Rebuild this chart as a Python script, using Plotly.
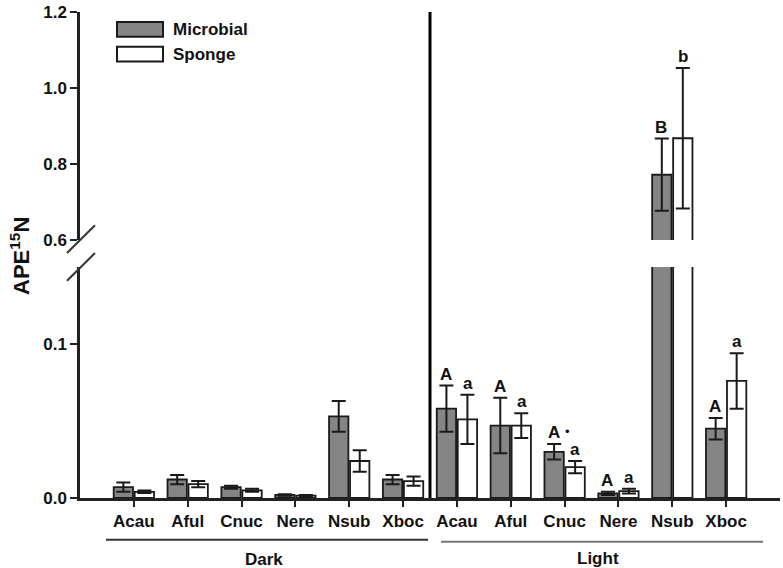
import plotly.graph_objects as go

species = ["Acau", "Aful", "Cnuc", "Nere", "Nsub", "Xboc"]
conditions = ["Dark", "Light"]

# Dark then Light, per species
microbial_mean = [0.007, 0.012, 0.007, 0.002, 0.053, 0.012,
                  0.058, 0.047, 0.030, 0.003, 0.772, 0.045]
microbial_sd = [0.003, 0.003, 0.001, 0.0005, 0.010, 0.003,
                0.015, 0.018, 0.005, 0.001, 0.095, 0.007]
sponge_mean = [0.004, 0.009, 0.005, 0.0015, 0.024, 0.011,
               0.051, 0.047, 0.020, 0.0045, 0.868, 0.076]
sponge_sd = [0.0008, 0.002, 0.001, 0.0005, 0.007, 0.003,
             0.016, 0.008, 0.004, 0.0015, 0.185, 0.018]
microbial_letters = ["", "", "", "", "", "", "A", "A", "A", "A", "B", "A"]
sponge_letters = ["", "", "", "", "", "", "a", "a", "a", "a", "b", "a"]

ticktext = species + species
xpos = list(range(len(ticktext)))

FONT = "Liberation Sans, Arial, sans-serif"
MICRO_COLOR = "#858585"
EDGE = "#1a1a1a"

fig = go.Figure()
for yax in ["y", "y2"]:
    fig.add_trace(go.Bar(
        x=xpos, y=microbial_mean, name="Microbial", yaxis=yax, xaxis="x",
        marker=dict(color=MICRO_COLOR, line=dict(color=EDGE, width=1.8)),
        error_y=dict(type="data", array=microbial_sd, visible=True,
                     color=EDGE, thickness=2, width=7),
        showlegend=False, hoverinfo="skip"))
    fig.add_trace(go.Bar(
        x=xpos, y=sponge_mean, name="Sponge", yaxis=yax, xaxis="x",
        marker=dict(color="white", line=dict(color=EDGE, width=1.8)),
        error_y=dict(type="data", array=sponge_sd, visible=True,
                     color=EDGE, thickness=2, width=7),
        showlegend=False, hoverinfo="skip"))

# plot area geometry
L, R, T, B = 80, 3, 8, 70
W, H = 783, 568
ph = H - T - B
pw = W - L - R
lower_top = (498 - 265) / ph
upper_bot = (498 - 238) / ph

txt_font = dict(size=17, family=FONT, weight="bold", color="#111")

annotations = []
# significance letters
for i, x in enumerate(xpos):
    for letters, means, sds, off in [(microbial_letters, microbial_mean, microbial_sd, -0.205),
                                     (sponge_letters, sponge_mean, sponge_sd, 0.2)]:
        if letters[i]:
            top = means[i] + sds[i]
            yref = "y2" if top > 0.6 else "y"
            annotations.append(dict(x=x + off, y=top, xref="x", yref=yref, text=letters[i],
                                    showarrow=False, xanchor="center", yanchor="bottom",
                                    yshift=0, font=txt_font))
# dot next to Cnuc light "A"
ci = 6 + species.index("Cnuc")
annotations.append(dict(x=ci - 0.205, y=microbial_mean[ci] + microbial_sd[ci], xref="x", yref="y",
                        text="•", showarrow=False, xanchor="center", yanchor="bottom",
                        yshift=3, xshift=14, font=dict(size=13, family=FONT, color="#111")))

# y-axis title
annotations.append(dict(x=(20 - L) / pw, y=(498 - 254) / ph, xref="paper", yref="paper",
                        text="APE<sup>15</sup>N", textangle=-90, showarrow=False,
                        xanchor="center", yanchor="middle",
                        font=dict(size=22, family=FONT, weight="bold", color="#111")))
# group labels
annotations.append(dict(x=(264 - L) / pw, y=(498 - 560) / ph, xref="paper", yref="paper",
                        text=conditions[0], showarrow=False, xanchor="center", yanchor="middle",
                        font=txt_font))
annotations.append(dict(x=(598 - L) / pw, y=(498 - 559) / ph, xref="paper", yref="paper",
                        text=conditions[1], showarrow=False, xanchor="center", yanchor="middle",
                        font=txt_font))
# manual legend
legend_items = [("Microbial", MICRO_COLOR, 18, 33), ("Sponge", "white", 43, 58)]
shapes = []
for label, col, y0, y1 in legend_items:
    shapes.append(dict(type="rect", xref="paper", yref="paper",
                       x0=(117 - L) / pw, x1=(163 - L) / pw,
                       y0=(498 - y1) / ph, y1=(498 - y0) / ph,
                       fillcolor=col, line=dict(color=EDGE, width=2)))
    annotations.append(dict(x=(171 - L) / pw, y=(498 - (y0 + y1) / 2) / ph, xref="paper", yref="paper",
                            text=label, showarrow=False, xanchor="left", yanchor="middle",
                            font=txt_font))

# divider between Dark and Light
shapes.append(dict(type="line", xref="x", yref="paper", x0=5.5, x1=5.5, y0=0, y1=1,
                   line=dict(color="black", width=3)))
# group underlines
shapes.append(dict(type="line", xref="paper", yref="paper", x0=(106 - L) / pw, x1=(428 - L) / pw,
                   y0=(498 - 540) / ph, y1=(498 - 540) / ph, line=dict(color="#333", width=2)))
shapes.append(dict(type="line", xref="paper", yref="paper", x0=(441 - L) / pw, x1=(763 - L) / pw,
                   y0=(498 - 542) / ph, y1=(498 - 542) / ph, line=dict(color="#777", width=2)))
# axis break marks
for yc in [237, 265]:
    shapes.append(dict(type="line", xref="paper", yref="paper",
                       x0=(67 - L) / pw, x1=(95 - L) / pw,
                       y0=(498 - (yc + 14)) / ph, y1=(498 - (yc - 14)) / ph,
                       line=dict(color="#333", width=2)))

axis_common = dict(showline=True, linecolor="#222", linewidth=2.5, ticks="outside",
                   tickwidth=2, tickcolor="#222", showgrid=False, zeroline=False,
                   tickfont=txt_font, ticklabeloverflow="allow")
fig.update_layout(
    width=W, height=H,
    margin=dict(l=L, r=R, t=T, b=B),
    plot_bgcolor="white", paper_bgcolor="white",
    barmode="group", bargap=0.22, bargroupgap=0.08,
    font=dict(family=FONT, color="#111"),
    xaxis=dict(range=[-1, 12], tickvals=xpos, ticktext=ticktext, anchor="y",
               ticklen=6, **axis_common),
    yaxis=dict(domain=[0, lower_top], range=[0, 0.15], tickvals=[0, 0.1],
               ticktext=["0.0", "0.1"], anchor="x", ticklen=7, **axis_common),
    yaxis2=dict(domain=[upper_bot, 1], range=[0.6, 1.2], tickvals=[0.6, 0.8, 1.0, 1.2],
                tickformat=".1f", anchor="x", ticklen=7, **axis_common),
    annotations=annotations, shapes=shapes,
    showlegend=False, hovermode=False,
)

fig.write_html("out.html", config={"displayModeBar": False},
               post_script="document.body.style.margin='0px';")
